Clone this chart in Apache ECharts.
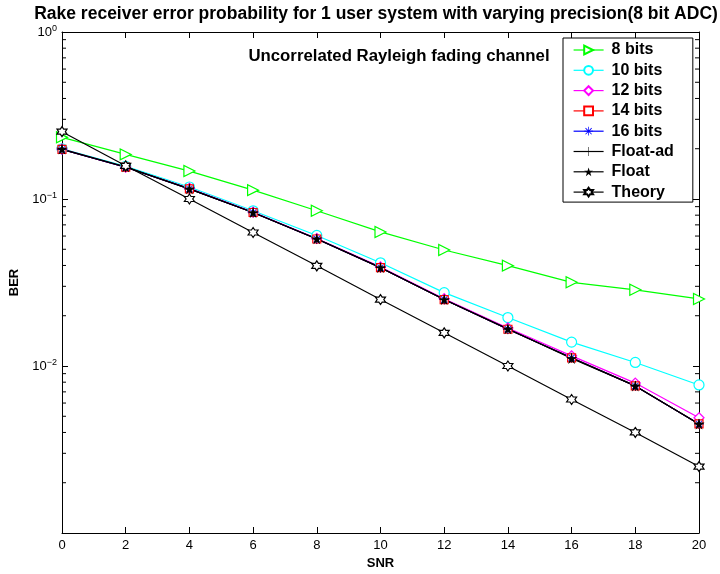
<!DOCTYPE html>
<html>
<head>
<meta charset="utf-8">
<script src="https://cdn.jsdelivr.net/npm/echarts@6/dist/echarts.min.js"></script>
<style>
html,body{margin:0;padding:0;background:#fff;}
#chart{width:720px;height:574px;}
</style>
</head>
<body>
<div id="chart"></div>
<script>
// ---- data ----
const snr = [0, 2, 4, 6, 8, 10, 12, 14, 16, 18, 20];
const bits8   = [0.234, 0.185, 0.147, 0.113, 0.085, 0.0635, 0.0495, 0.0399, 0.0317, 0.0286, 0.0252];
const bits10  = [0.200, 0.157, 0.118, 0.085, 0.0605, 0.0415, 0.0275, 0.0195, 0.0139, 0.0105, 0.0077];
const bits12  = [0.199, 0.155, 0.116, 0.0835, 0.0580, 0.0392, 0.0253, 0.0169, 0.0115, 0.0079, 0.0049];
const bits14  = [0.198, 0.155, 0.115, 0.0830, 0.0576, 0.0388, 0.0250, 0.0166, 0.0112, 0.0076, 0.0045];
const bits16  = [0.198, 0.155, 0.115, 0.0830, 0.0576, 0.0388, 0.0250, 0.0166, 0.0112, 0.0076, 0.0045];
const floatAd = [0.198, 0.155, 0.115, 0.0830, 0.0576, 0.0388, 0.0250, 0.0166, 0.0112, 0.0076, 0.0045];
const floatV  = [0.199, 0.156, 0.115, 0.0830, 0.0578, 0.0389, 0.0250, 0.0167, 0.0111, 0.0076, 0.0045];
const theory  = [0.253, 0.158, 0.100, 0.0630, 0.0398, 0.0250, 0.0158, 0.0100, 0.0063, 0.0040, 0.0025];
const seriesNames = ['8 bits', '10 bits', '12 bits', '14 bits', '16 bits', 'Float-ad', 'Float', 'Theory'];
const yTickExponents = [0, -1, -2];           // labelled decades
const minorTicks = [0.002,0.003,0.004,0.005,0.006,0.007,0.008,0.009,
                    0.02,0.03,0.04,0.05,0.06,0.07,0.08,0.09,
                    0.2,0.3,0.4,0.5,0.6,0.7,0.8,0.9];
const titleText = 'Rake receiver error probability for 1 user system with varying precision(8 bit ADC)';
const noteText = 'Uncorrelated Rayleigh fading channel';

// ---- symbols ----
const PLUS = 'path://M-0.6,-10 L0.6,-10 L0.6,-0.6 L10,-0.6 L10,0.6 L0.6,0.6 L0.6,10 L-0.6,10 L-0.6,0.6 L-10,0.6 L-10,-0.6 L-0.6,-0.6 Z';
const ASTER = 'path://M-0.8,-10 L0.8,-10 L0.8,-0.8 L10,-0.8 L10,0.8 L0.8,0.8 L0.8,10 L-0.8,10 L-0.8,0.8 L-10,0.8 L-10,-0.8 L-0.8,-0.8 Z M-7.6,-6.4 L-6.4,-7.6 L7.6,6.4 L6.4,7.6 Z M6.4,-7.6 L7.6,-6.4 L-6.4,7.6 L-7.6,6.4 Z';
const STAR = 'path://M0,-10 L2.25,-3.09 L9.51,-3.09 L3.63,1.18 L5.88,8.09 L0,3.82 L-5.88,8.09 L-3.63,1.18 L-9.51,-3.09 L-2.25,-3.09 Z';
const HEXA = 'path://M0,-10 L2.89,-5 L8.66,-5 L5.77,0 L8.66,5 L2.89,5 L0,10 L-2.89,5 L-8.66,5 L-5.77,0 L-8.66,-5 L-2.89,-5 Z';

const FONT = '"Liberation Sans", Arial, Helvetica, sans-serif';

function mk(name, vals, color, symbol, size, filled, rotate) {
  return {
    name: name,
    type: 'line',
    data: snr.map((x, i) => [x, vals[i]]),
    symbol: symbol,
    symbolSize: size,
    symbolRotate: rotate || 0,
    showAllSymbol: true,
    animation: false,
    lineStyle: { color: color, width: 1.2 },
    itemStyle: filled ? { color: color, borderColor: color, borderWidth: 0 }
                      : { color: '#ffffff', borderColor: color, borderWidth: 1.2 },
    emphasis: { disabled: true },
    z: 3
  };
}

const series = [
  mk(seriesNames[0], bits8, '#00ff00', 'triangle', 11, false, -90),
  mk(seriesNames[1], bits10, '#00ffff', 'circle', 10, false),
  mk(seriesNames[2], bits12, '#ff00ff', 'diamond', 10, false),
  mk(seriesNames[3], bits14, '#ff0000', 'rect', 8, false),
  mk(seriesNames[4], bits16, '#0000ff', ASTER, 9, true),
  mk(seriesNames[5], floatAd, '#000000', PLUS, 10, true),
  mk(seriesNames[6], floatV, '#000000', STAR, 11, true),
  mk(seriesNames[7], theory, '#000000', HEXA, 10, false),
  {
    name: 'minorTicks',
    type: 'custom',
    silent: true,
    animation: false,
    data: minorTicks.map(v => [0, v]),
    renderItem: function (params, api) {
      const l = api.coord([0, api.value(1)]);
      const r = api.coord([20, api.value(1)]);
      return {
        type: 'group',
        children: [
          { type: 'line', shape: { x1: l[0], y1: l[1], x2: l[0] + 4, y2: l[1] }, style: { stroke: '#000', lineWidth: 1 } },
          { type: 'line', shape: { x1: r[0] - 4, y1: r[1], x2: r[0], y2: r[1] }, style: { stroke: '#000', lineWidth: 1 } }
        ]
      };
    },
    z: 1
  }
];

const axisLine = { show: true, onZero: false, lineStyle: { color: '#000', width: 1 } };
const tickIn = { show: true, inside: true, length: 6, lineStyle: { color: '#000', width: 1 } };

const chart = echarts.init(document.getElementById('chart'), null, { renderer: 'canvas' });
chart.setOption({
  backgroundColor: '#ffffff',
  animation: false,
  title: {
    text: titleText,
    left: 371,
    textAlign: 'center',
    top: 0,
    textStyle: { fontFamily: FONT, fontSize: 17.5, fontWeight: 'bold', color: '#000' }
  },
  grid: { left: 62, right: 21, top: 32, bottom: 41, containLabel: false, outerBoundsMode: 'none' },
  legend: {
    data: seriesNames,
    orient: 'vertical',
    left: 563,
    top: 38,
    backgroundColor: '#ffffff',
    borderColor: '#000',
    borderWidth: 1,
    padding: [4, 19, 2, 10],
    itemWidth: 30,
    itemHeight: 11,
    itemGap: 4.3,
    lineStyle: { width: 1.2 },
    textStyle: { fontFamily: FONT, fontSize: 16, lineHeight: 16, fontWeight: 'bold', color: '#000', padding: [0, 0, 0, 3] },
    selectedMode: false
  },
  xAxis: [
    {
      type: 'value', min: 0, max: 20, interval: 2,
      name: 'SNR', nameLocation: 'middle', nameGap: 22,
      nameTextStyle: { fontFamily: FONT, fontSize: 13, fontWeight: 'bold', color: '#000' },
      axisLine: axisLine, axisTick: tickIn,
      axisLabel: { fontFamily: FONT, fontSize: 13, color: '#000', margin: 6 },
      splitLine: { show: false }
    },
    {
      type: 'value', min: 0, max: 20, interval: 2, position: 'top',
      axisLine: axisLine, axisTick: tickIn, axisLabel: { show: false }, splitLine: { show: false }
    }
  ],
  yAxis: [
    {
      type: 'log', logBase: 10, min: 0.001, max: 1,
      name: 'BER', nameLocation: 'middle', nameGap: 41, nameRotate: 90,
      nameTextStyle: { fontFamily: FONT, fontSize: 13, fontWeight: 'bold', color: '#000' },
      axisLine: axisLine, axisTick: tickIn,
      axisLabel: {
        margin: 5,
        fontFamily: FONT, fontSize: 13, color: '#000',
        formatter: function (v) {
          const e = Math.round(Math.log10(v));
          if (yTickExponents.indexOf(e) < 0) return '';
          return '10{s|' + (e < 0 ? '\u2212' + (-e) : e) + '}';
        },
        rich: { s: { fontFamily: FONT, fontSize: 9, color: '#000', verticalAlign: 'bottom', padding: [0, 0, 6, 0] } }
      },
      splitLine: { show: false }
    },
    {
      type: 'log', logBase: 10, min: 0.001, max: 1, position: 'right',
      axisLine: axisLine, axisTick: tickIn, axisLabel: { show: false }, splitLine: { show: false }
    }
  ],
  graphic: [
    {
      type: 'text', x: 399, y: 56, z: 10,
      style: { text: noteText, font: 'bold 16.8px ' + FONT, fill: '#000', textAlign: 'center', textVerticalAlign: 'middle' }
    }
  ],
  series: series
});
</script>
</body>
</html>
